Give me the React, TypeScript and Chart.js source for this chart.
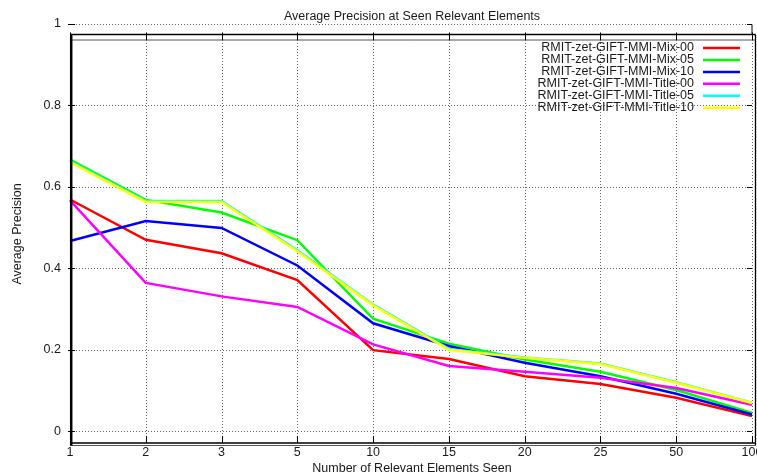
import React, { useEffect, useRef } from "react";
import { Chart, registerables } from "chart.js";

Chart.register(...registerables);

const categories = ["1", "2", "3", "5", "10", "15", "20", "25", "50", "100"];
const yTicks = [0, 0.2, 0.4, 0.6, 0.8, 1];
const yTickLabels = ["0", "0.2", "0.4", "0.6", "0.8", "1"];

const seriesNames = [
  "RMIT-zet-GIFT-MMI-Mix-00",
  "RMIT-zet-GIFT-MMI-Mix-05",
  "RMIT-zet-GIFT-MMI-Mix-10",
  "RMIT-zet-GIFT-MMI-Title-00",
  "RMIT-zet-GIFT-MMI-Title-05",
  "RMIT-zet-GIFT-MMI-Title-10",
];
const mix00 = [0.569, 0.47, 0.437, 0.371, 0.199, 0.177, 0.135, 0.116, 0.082, 0.037];
const mix05 = [0.667, 0.568, 0.537, 0.469, 0.276, 0.215, 0.176, 0.146, 0.101, 0.045];
const mix10 = [0.467, 0.516, 0.499, 0.407, 0.265, 0.209, 0.168, 0.135, 0.092, 0.041];
const title00 = [0.567, 0.364, 0.331, 0.305, 0.213, 0.16, 0.146, 0.131, 0.106, 0.065];
const title05 = [0.663, 0.565, 0.565, 0.444, 0.311, 0.202, 0.181, 0.166, 0.12, 0.07];
const title10 = [0.661, 0.563, 0.563, 0.442, 0.309, 0.2, 0.18, 0.165, 0.119, 0.069];
const seriesValues = [mix00, mix05, mix10, title00, title05, title10];
const seriesColors = ["#ff0000", "#00ff00", "#0000ff", "#ff00ff", "#00ffff", "#ffff00"];

const chartTitle = "Average Precision at Seen Relevant Elements";
const xTitle = "Number of Relevant Elements Seen";
const yTitle = "Average Precision";

const FONT = "12.5px 'Liberation Sans', Arial, sans-serif";
const TEXT = "#1a1a1a";

const gnuplotPlugin = {
  id: "gnuplotDecor",
  beforeDatasetsDraw(chart: any) {
    const ctx = chart.ctx;
    const { left, right, top, bottom } = chart.chartArea;
    const xs = chart.scales.x;
    const ys = chart.scales.y;
    ctx.save();
    ctx.strokeStyle = "rgba(0,0,0,0.6)";
    ctx.lineWidth = 1;
    ctx.setLineDash([1, 2]);
    yTicks.forEach((v) => {
      const y = Math.round(ys.getPixelForValue(v)) + 0.5;
      ctx.beginPath();
      ctx.moveTo(left + 6, y);
      ctx.lineTo(right - 4, y);
      ctx.stroke();
    });
    categories.forEach((_, i) => {
      if (i === 0) return;
      const x = Math.round(xs.getPixelForValue(i)) + 0.5;
      ctx.beginPath();
      ctx.moveTo(x, top + 16);
      ctx.lineTo(x, bottom - 9);
      ctx.stroke();
    });
    ctx.setLineDash([]);
    ctx.restore();
  },
  afterDatasetsDraw(chart: any) {
    const ctx = chart.ctx;
    const { left, right, top, bottom } = chart.chartArea;
    const xs = chart.scales.x;
    const ys = chart.scales.y;
    const W = chart.width;
    const H = chart.height;
    ctx.save();
    ctx.strokeStyle = "#000";
    ctx.lineWidth = 1;
    yTicks.forEach((v) => {
      const y = Math.round(ys.getPixelForValue(v)) + 0.5;
      ctx.beginPath();
      ctx.moveTo(left - 2, y);
      ctx.lineTo(left + 5, y);
      ctx.moveTo(right - 5, y);
      ctx.lineTo(right, y);
      ctx.stroke();
    });
    const y1 = Math.round(ys.getPixelForValue(1)) + 0.5;
    ctx.beginPath();
    ctx.moveTo(right, y1);
    ctx.lineTo(right, top + 10);
    ctx.stroke();
    const fTop = top + 10.5;
    const fTop2 = top + 16;
    const fBot = bottom - 2;
    const fBot2 = bottom + 0.5;
    const fRight = W - 1.5;
    ctx.lineWidth = 1.3;
    ctx.beginPath();
    ctx.moveTo(left, fTop);
    ctx.lineTo(fRight, fTop);
    ctx.moveTo(left, fBot);
    ctx.lineTo(fRight, fBot);
    ctx.moveTo(fRight, fTop);
    ctx.lineTo(fRight, fBot2);
    ctx.stroke();
    ctx.strokeStyle = "#555";
    ctx.lineWidth = 1;
    ctx.beginPath();
    ctx.moveTo(left, fTop2);
    ctx.lineTo(fRight, fTop2);
    ctx.moveTo(left, fBot2);
    ctx.lineTo(fRight, fBot2);
    ctx.stroke();
    ctx.strokeStyle = "#000";
    ctx.lineWidth = 2.5;
    ctx.beginPath();
    ctx.moveTo(left + 1.2, fTop);
    ctx.lineTo(left + 1.2, fBot2);
    ctx.stroke();
    ctx.lineWidth = 1;
    categories.forEach((_, i) => {
      const x = Math.round(xs.getPixelForValue(i)) + 0.5;
      ctx.beginPath();
      ctx.moveTo(x, fTop - 2);
      ctx.lineTo(x, fTop2);
      ctx.moveTo(x, fBot - 7);
      ctx.lineTo(x, fBot);
      ctx.stroke();
    });
    ctx.fillStyle = TEXT;
    ctx.font = FONT;
    ctx.textBaseline = "middle";
    ctx.textAlign = "right";
    yTicks.forEach((v, i) => {
      ctx.fillText(yTickLabels[i], left - 9, ys.getPixelForValue(v));
    });
    ctx.textAlign = "center";
    categories.forEach((c, i) => {
      ctx.fillText(c, xs.getPixelForValue(i), bottom + 8);
    });
    const cx = (left + right) / 2;
    ctx.fillText(xTitle, cx + 1, H - 7);
    ctx.fillText(chartTitle, cx + 1, 17);
    ctx.save();
    ctx.translate(18, 234);
    ctx.rotate(-Math.PI / 2);
    ctx.fillText(yTitle, 0, 0);
    ctx.restore();
    ctx.restore();
  },
  afterDraw(chart: any) {
    const ctx = chart.ctx;
    const { top } = chart.chartArea;
    ctx.save();
    ctx.font = FONT;
    ctx.textBaseline = "middle";
    ctx.textAlign = "right";
    seriesNames.forEach((name, i) => {
      const y = top + 24 + i * 11.95;
      ctx.fillStyle = TEXT;
      ctx.fillText(name, 694, y);
      ctx.strokeStyle = seriesColors[i];
      ctx.lineWidth = 2.5;
      ctx.beginPath();
      ctx.moveTo(703, y);
      ctx.lineTo(740, y);
      ctx.stroke();
    });
    ctx.restore();
  },
};

export default function App() {
  const ref = useRef<HTMLCanvasElement | null>(null);
  useEffect(() => {
    if (!ref.current) return;
    const chart = new Chart(ref.current, {
      type: "line",
      data: {
        labels: categories,
        datasets: seriesValues.map((vals, i) => ({
          label: seriesNames[i],
          data: vals,
          borderColor: seriesColors[i],
          backgroundColor: seriesColors[i],
          borderWidth: 2.5,
          pointRadius: 0,
          tension: 0,
          fill: false,
          order: seriesValues.length - 1 - i,
        })),
      },
      options: {
        animation: false,
        responsive: false,
        devicePixelRatio: 1,
        layout: { padding: { left: 70, right: 5, top: 24, bottom: 31 } },
        plugins: {
          legend: { display: false },
          title: { display: false },
          tooltip: { enabled: false },
        },
        scales: {
          x: { type: "category", offset: false, display: false },
          y: { type: "linear", min: -0.034, max: 1, display: false },
        },
      },
      plugins: [gnuplotPlugin],
    });
    return () => chart.destroy();
  }, []);
  return (
    <div style={{ position: "fixed", left: 0, top: 0, width: 757, height: 476, background: "#fff" }}>
      <canvas ref={ref} width={757} height={476} />
    </div>
  );
}
